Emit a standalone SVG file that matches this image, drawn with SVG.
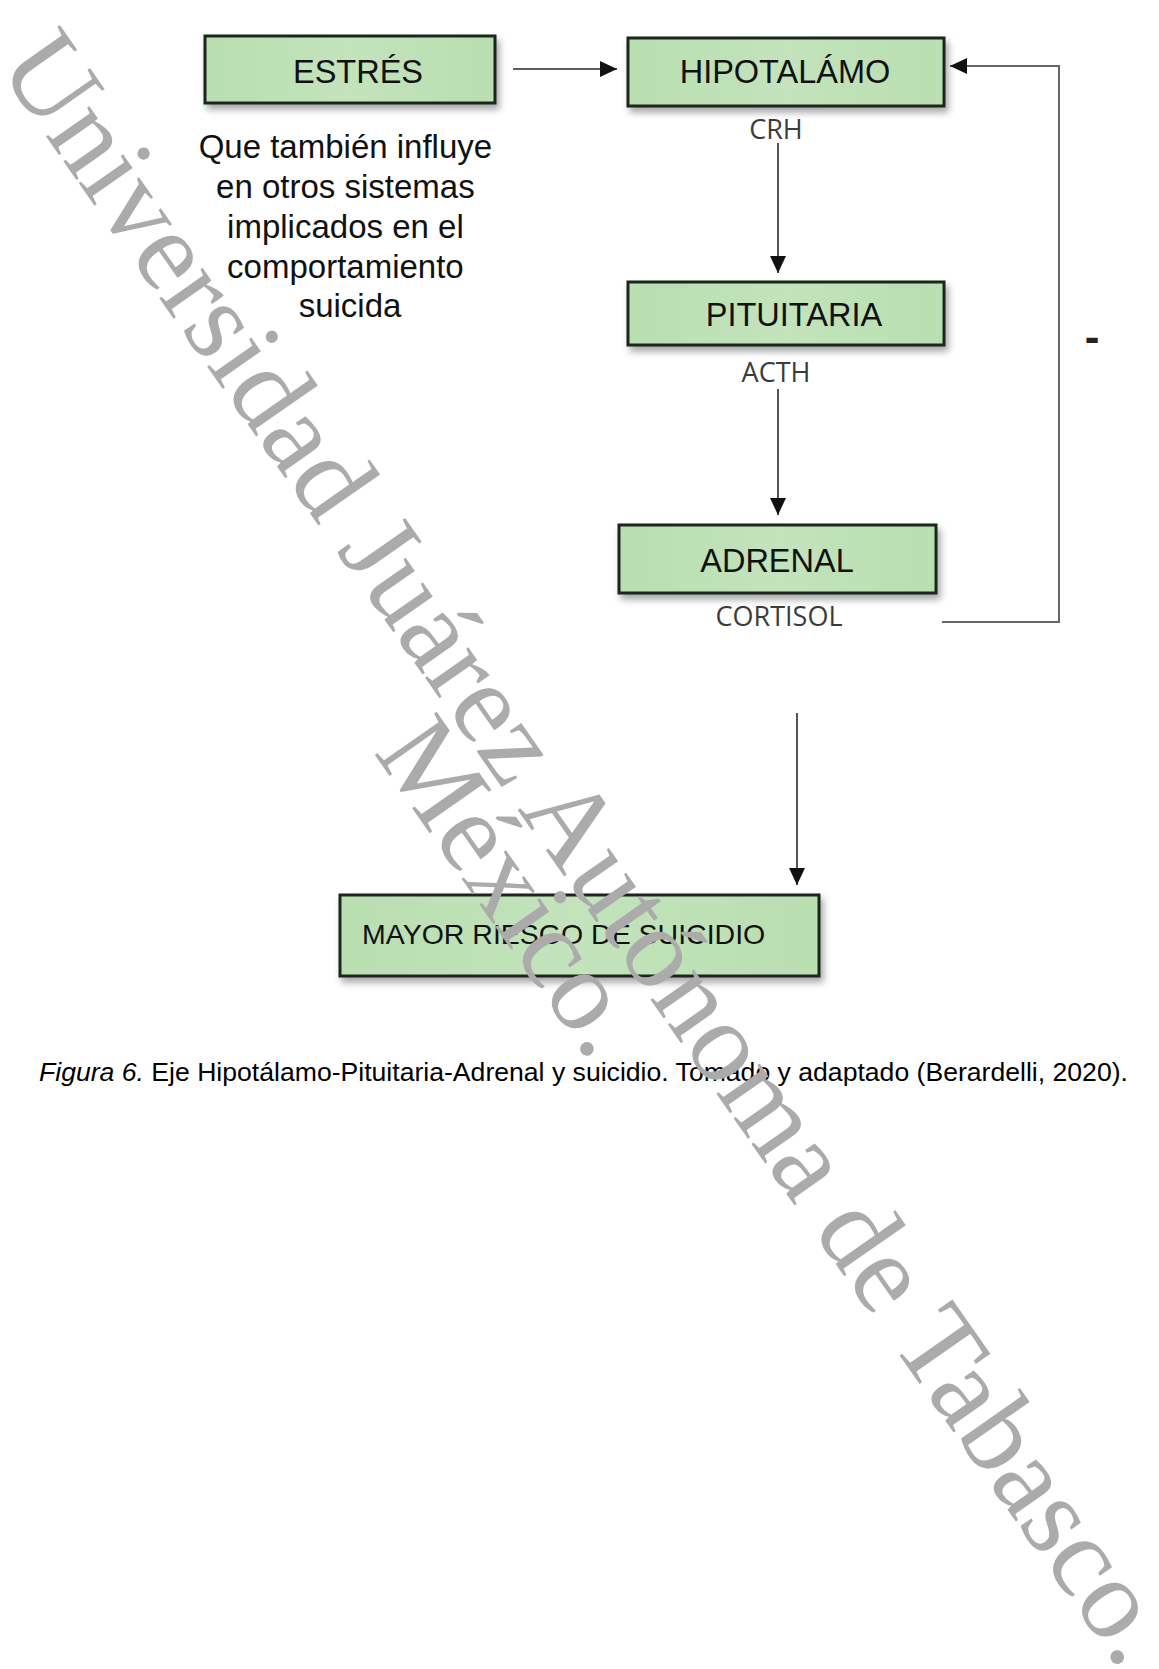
<svg xmlns="http://www.w3.org/2000/svg" width="1159" height="1669" viewBox="0 0 1159 1669">
<defs>
<style>
.box{fill:url(#g);stroke:#1c261b;stroke-width:3;filter:url(#sh)}
.lbl{font-family:"Liberation Sans",Arial,sans-serif;fill:#111;text-anchor:middle}
.hor{font-family:"Open Sans","Liberation Sans",sans-serif;font-size:27px;fill:#3c3c3c;text-anchor:middle}
.ln{stroke:#2a2a2a;stroke-width:1.6;fill:none}
.fb{stroke:#666;stroke-width:2;fill:none}
.wm{font-family:"Liberation Serif","Times New Roman",serif;font-size:115px;fill:#ababab;text-anchor:middle}
</style>
<linearGradient id="g" x1="0" y1="0" x2="1" y2="0">
<stop offset="0" stop-color="#b9deb0"/>
<stop offset="0.5" stop-color="#c3e3bc"/>
<stop offset="1" stop-color="#b9deb0"/>
</linearGradient>
<filter id="sh" x="-10%" y="-20%" width="125%" height="160%">
<feDropShadow dx="3" dy="5" stdDeviation="3.5" flood-color="#000" flood-opacity="0.35"/>
</filter>
<marker id="ah" markerWidth="18" markerHeight="16" refX="17" refY="8" orient="auto" markerUnits="userSpaceOnUse">
<path d="M0,0 L17,8 L0,16 Z" fill="#111"/>
</marker>
</defs>
<rect width="1159" height="1669" fill="#fff"/>

<g id="connectors">
<line class="ln" x1="513" y1="69" x2="617" y2="69" marker-end="url(#ah)"/>
<line class="ln" x1="778" y1="143" x2="778" y2="273" marker-end="url(#ah)"/>
<line class="ln" x1="778" y1="389" x2="778" y2="515" marker-end="url(#ah)"/>
<line class="ln" x1="797" y1="713" x2="797" y2="885" marker-end="url(#ah)"/>
<polyline class="fb" points="942,622 1059,622 1059,66 950,66" marker-end="url(#ah)"/>
<text x="1092" y="352" font-family="Liberation Sans, Arial, sans-serif" font-weight="bold" font-size="44" fill="#222" text-anchor="middle">-</text>
</g>

<g id="estres">
<rect class="box" x="205" y="36" width="290" height="67"/>
<text class="lbl" x="358" y="83" font-size="32.5">ESTRÉS</text>
</g>

<g id="nota">
<text class="lbl" font-size="33" fill="#111">
<tspan x="350" y="158">Que también influye</tspan>
<tspan x="350" y="198">en otros sistemas</tspan>
<tspan x="350" y="238">implicados en el</tspan>
<tspan x="350" y="278">comportamiento</tspan>
<tspan x="350" y="317">suicida</tspan>
</text>
</g>

<g id="hipotalamo">
<rect class="box" x="628" y="38" width="316" height="68"/>
<text class="lbl" x="785" y="83" font-size="32.5">HIPOTALÁMO</text>
<text class="hor" x="776" y="139">CRH</text>
</g>

<g id="pituitaria">
<rect class="box" x="628" y="282" width="316" height="63"/>
<text class="lbl" x="794" y="326" font-size="32.5">PITUITARIA</text>
<text class="hor" x="776" y="382">ACTH</text>
</g>

<g id="adrenal">
<rect class="box" x="619" y="525" width="317" height="68"/>
<text class="lbl" x="777" y="572" font-size="32.5">ADRENAL</text>
<text class="hor" x="779" y="626">CORTISOL</text>
</g>

<g id="riesgo">
<rect class="box" x="340" y="895" width="479" height="81"/>
<text class="lbl" x="362" y="944" font-size="28.5" style="text-anchor:start">MAYOR RIESGO DE SUICIDIO</text>
</g>

<g id="caption">
<text x="39" y="1081" font-family="Liberation Sans, Arial, sans-serif" font-size="26.6" fill="#000"><tspan font-style="italic">Figura 6.</tspan> Eje Hipotálamo-Pituitaria-Adrenal y suicidio. Tomado y adaptado (Berardelli, 2020).</text>
</g>

<g id="watermark">
<text class="wm" transform="translate(559,869) rotate(55)">Universidad Juárez Autónoma de Tabasco.</text>
<text class="wm" transform="translate(482,908) rotate(55)">México.</text>
</g>
</svg>
